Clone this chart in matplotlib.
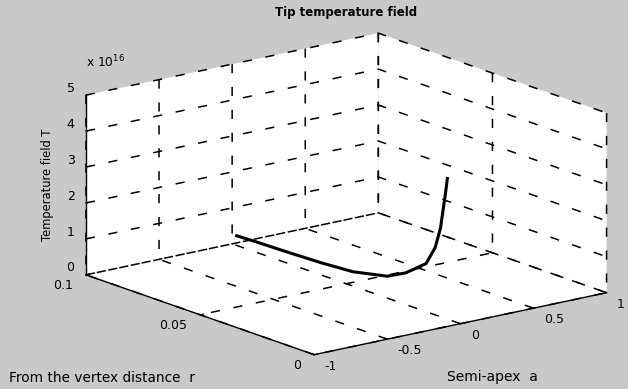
import numpy as np
import matplotlib
matplotlib.use('Agg')
import matplotlib.pyplot as plt

# values (curve lies in the a = 0 plane)
semi_apex = [0.0] * 12
distance_r = [0.098, 0.089, 0.075, 0.061, 0.047, 0.032, 0.024, 0.015, 0.011, 0.0087, 0.0066, 0.0057]
temp_1e16 = [0.27, 0.29, 0.31, 0.34, 0.40, 0.61, 0.88, 1.34, 1.88, 2.47, 3.45, 3.91]

a_ticks = [-1, -0.5, 0, 0.5, 1]
a_labels = ['-1', '-0.5', '0', '0.5', '1']
r_ticks = [0, 0.05, 0.1]
r_labels = ['0', '0.05', '0.1']
t_ticks = [0, 1, 2, 3, 4, 5]
t_labels = ['0', '1', '2', '3', '4', '5']

BG = '#c9c9c9'
GRID_DASH = (0, (6, 9))
plt.rcParams['font.family'] = ['DejaVu Sans']
plt.rcParams['font.size'] = 9
plt.rcParams['grid.color'] = 'black'
plt.rcParams['grid.linestyle'] = GRID_DASH
plt.rcParams['grid.linewidth'] = 1.1
plt.rcParams['axes3d.automargin'] = False

fig = plt.figure(figsize=(6.28, 3.89), dpi=100, facecolor=BG)
ax = fig.add_axes([0.043, -0.012, 1.0, 1.0], projection='3d', proj_type='ortho')
ax.set_facecolor(BG)
ax.patch.set_alpha(0)
ax.view_init(elev=15.8, azim=-127.9)
ax.set_box_aspect((373, 374, 188), zoom=1.39)

ax.plot(semi_apex, distance_r, temp_1e16, color='black', linewidth=2.2)

ax.set_xlim(-1, 1)
ax.set_ylim(0, 0.1)
ax.set_zlim(0, 5)
ax.set_xticks(a_ticks, a_labels)
ax.set_yticks(r_ticks, r_labels)
ax.set_zticks(t_ticks, t_labels)
ax.tick_params(axis='x', labelsize=9, pad=-1.4)
ax.tick_params(axis='y', labelsize=9, pad=-1.4)
ax.tick_params(axis='z', labelsize=9, pad=-4.8)

# MATLAB-like label anchoring
for t in ax.xaxis.get_major_ticks():
    t.label1.set_ha('left')
    t.label1.set_va('center')
for t in ax.yaxis.get_major_ticks():
    t.label1.set_ha('right')
    t.label1.set_va('center')
for t in ax.zaxis.get_major_ticks():
    t.label1.set_ha('right')
    t.label1.set_va('bottom')

for axis in (ax.xaxis, ax.yaxis, ax.zaxis):
    axis.set_pane_color('white')
    axis.pane.set_edgecolor('none')
    axis.line.set_color('black')
    axis.line.set_linewidth(1.0)
    axis._axinfo['grid'].update({'color': 'black', 'linestyle': GRID_DASH,
                                 'linewidth': 1.1})
    axis._axinfo['tick']['inward_factor'] = 0.0
    axis._axinfo['tick']['outward_factor'] = 0.15

fig.text(0.551, 0.968, 'Tip temperature field', ha='center', va='center',
         fontsize=8.5, fontweight='bold')
fig.text(0.137, 0.84, r'x 10$^{16}$', ha='left', va='center', fontsize=8.8)
fig.text(0.075, 0.525, 'Temperature field T', rotation=90, ha='center',
         va='center', fontsize=8.3)
fig.text(0.015, 0.027, 'From the vertex distance  r', ha='left', va='center',
         fontsize=9.8)
fig.text(0.712, 0.03, 'Semi-apex  a', ha='left', va='center', fontsize=10)

fig.savefig('out.png', dpi=100, facecolor=BG)
